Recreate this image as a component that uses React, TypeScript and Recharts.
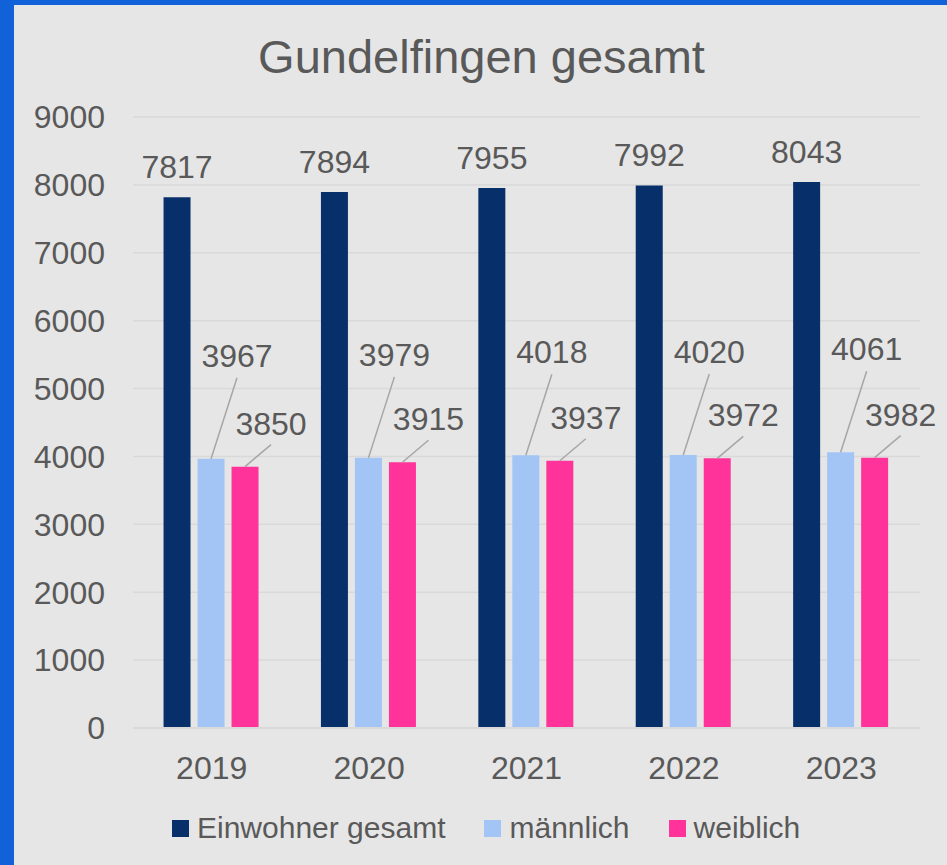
import { BarChart, Bar, XAxis, YAxis, CartesianGrid, LabelList } from "recharts";

// Einwohnerzahlen Gundelfingen
const years = ["2019", "2020", "2021", "2022", "2023"];
const gesamt = [7817, 7894, 7955, 7992, 8043];
const maennlich = [3967, 3979, 4018, 4020, 4061];
const weiblich = [3850, 3915, 3937, 3972, 3982];
const yTicks = [0, 1000, 2000, 3000, 4000, 5000, 6000, 7000, 8000, 9000];

const data = years.map((year, i) => ({
  year,
  gesamt: gesamt[i],
  maennlich: maennlich[i],
  weiblich: weiblich[i],
}));

const FONT = '"Liberation Sans", Arial, sans-serif';
const TEXT = "#595959";
const GRID = "#d9d9d9";

const series = [
  { key: "gesamt", name: "Einwohner gesamt", color: "#07306b" },
  { key: "maennlich", name: "männlich", color: "#a3c5f6" },
  { key: "weiblich", name: "weiblich", color: "#ff3399" },
];

// label straight above the bar
const TopLabel = (props: any) => {
  const { x, y, width, value } = props;
  return (
    <text x={x + width / 2} y={y - 19} textAnchor="middle" fontSize={32} fontFamily={FONT} fill={TEXT}>
      {value}
    </text>
  );
};

// label shifted up/right with a leader line back to the bar
const makeLeaderLabel = (dx: number, textUp: number, lineUp: number) => (props: any) => {
  const { x, y, width, value } = props;
  const cx = x + width / 2;
  const lx = cx + dx;
  return (
    <g>
      <line x1={lx} y1={y - lineUp} x2={cx} y2={y} stroke="#a6a6a6" strokeWidth={1.5} />
      <text x={lx} y={y - textUp} textAnchor="middle" fontSize={32} fontFamily={FONT} fill={TEXT}>
        {value}
      </text>
    </g>
  );
};

const MaleLabel = makeLeaderLabel(26, 92, 81);
const FemaleLabel = makeLeaderLabel(26, 32, 22);

const App = () => {
  return (
    <div style={{ position: "absolute", left: 0, top: 0, width: 947, height: 865, background: "#1162d8" }}>
      <div style={{ position: "absolute", left: 14, top: 5, width: 933, height: 860, background: "#e6e6e6" }}>
        <div
          style={{
            position: "absolute",
            left: 0,
            top: 28,
            width: 935,
            textAlign: "center",
            fontFamily: FONT,
            fontSize: 47,
            lineHeight: "47px",
            color: TEXT,
          }}
        >
          Gundelfingen gesamt
        </div>
        <BarChart
          width={933}
          height={860}
          data={data}
          margin={{ top: 112, right: 27, left: 0, bottom: 77 }}
          barCategoryGap="19.4%"
          barGap={7}
        >
          <CartesianGrid vertical={false} stroke={GRID} strokeWidth={1.5} />
          <XAxis
            dataKey="year"
            height={60}
            axisLine={{ stroke: GRID, strokeWidth: 2 }}
            tickLine={false}
            tickSize={0}
            tickMargin={28}
            tick={{ fontSize: 32, fontFamily: FONT, fill: TEXT }}
          />
          <YAxis
            width={119}
            domain={[0, 9000]}
            ticks={yTicks}
            axisLine={false}
            tickLine={false}
            tickSize={0}
            tickMargin={28}
            tick={{ fontSize: 32, fontFamily: FONT, fill: TEXT }}
          />
          <Bar dataKey="gesamt" name="Einwohner gesamt" fill="#07306b" isAnimationActive={false}>
            <LabelList dataKey="gesamt" content={TopLabel} />
          </Bar>
          <Bar dataKey="maennlich" name="männlich" fill="#a3c5f6" isAnimationActive={false}>
            <LabelList dataKey="maennlich" content={MaleLabel} />
          </Bar>
          <Bar dataKey="weiblich" name="weiblich" fill="#ff3399" isAnimationActive={false}>
            <LabelList dataKey="weiblich" content={FemaleLabel} />
          </Bar>
        </BarChart>
        <div
          style={{
            position: "absolute",
            left: 158,
            top: 808,
            height: 30,
            display: "flex",
            alignItems: "center",
            fontFamily: FONT,
            fontSize: 30,
            lineHeight: "30px",
            color: TEXT,
          }}
        >
          {series.map((s, i) => (
            <div key={s.key} style={{ display: "flex", alignItems: "center", marginRight: i < series.length - 1 ? 39 : 0 }}>
              <span style={{ display: "inline-block", width: 17, height: 17, background: s.color, marginRight: 8 }} />
              <span>{s.name}</span>
            </div>
          ))}
        </div>
      </div>
    </div>
  );
};

export default App;
